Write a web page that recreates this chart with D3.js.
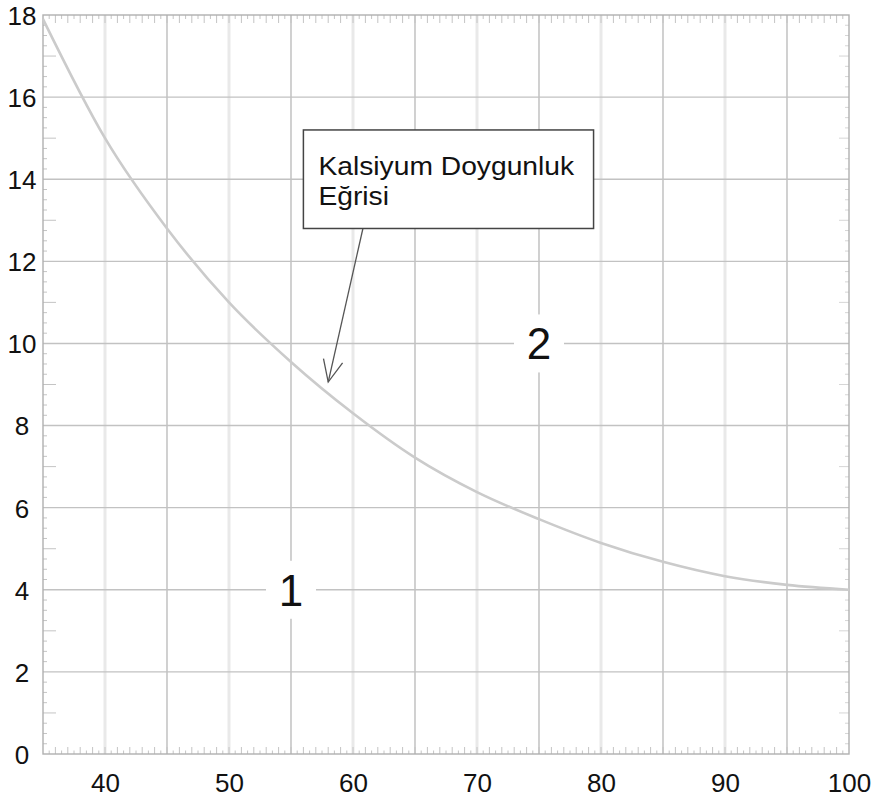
<!DOCTYPE html>
<html>
<head>
<meta charset="utf-8">
<script src="https://cdn.jsdelivr.net/npm/d3@7/dist/d3.min.js"></script>
<style>
  html, body { margin: 0; padding: 0; background: #fff; }
  svg { display: block; font-family: "Liberation Sans", Arial, sans-serif; }
</style>
</head>
<body>
<svg id="chart" width="878" height="803"></svg>
<script>
// Saturation curve: temperature (x) vs. value (y)
const curveX = [35, 40, 45, 50, 55, 60, 65, 70, 75, 80, 85, 90, 95, 100];
const curveY = [17.9, 15.0, 12.8, 11.0, 9.55, 8.3, 7.22, 6.38, 5.72, 5.14, 4.68, 4.33, 4.12, 4.0];

const xTicks = [40, 50, 60, 70, 80, 90, 100];
const yTicks = [0, 2, 4, 6, 8, 10, 12, 14, 16, 18];
const xGridMajor = [40, 50, 60, 70, 80, 90];
const xGridMinor = [45, 55, 65, 75, 85, 95];

// Region labels
const regionText = ["1", "2"];
const regionX = [55, 75];
const regionY = [4, 10];

// Callout
const noteLines = ["Kalsiyum Doygunluk", "Eğrisi"];

const svg = d3.select("#chart");
const x = d3.scaleLinear().domain([35, 100]).range([43, 849]);
const y = d3.scaleLinear().domain([0, 18]).range([754, 15]);

// grid
const grid = svg.append("g");
grid.selectAll("line.gmaj").data(xGridMajor).join("line")
  .attr("x1", d => x(d)).attr("x2", d => x(d))
  .attr("y1", y(18)).attr("y2", y(0))
  .attr("stroke", "#e9e9e9").attr("stroke-width", 3);
grid.selectAll("line.gmin").data(xGridMinor).join("line")
  .attr("x1", d => x(d)).attr("x2", d => x(d))
  .attr("y1", y(18)).attr("y2", y(0))
  .attr("stroke", "#bdbdbd").attr("stroke-width", 1.4);
grid.selectAll("line.gy").data(yTicks.slice(1, -1)).join("line")
  .attr("x1", x(35)).attr("x2", x(100))
  .attr("y1", d => y(d)).attr("y2", d => y(d))
  .attr("stroke", "#c2c2c2").attr("stroke-width", 1.4);

// minor ticks along top / bottom (every 0.5)
const hMinor = d3.range(35.5, 100, 0.5);
const ticks = svg.append("g").attr("stroke", "#c4c4c4").attr("stroke-width", 1);
ticks.selectAll("line.tb").data(hMinor).join("line")
  .attr("x1", d => x(d)).attr("x2", d => x(d))
  .attr("y1", y(0)).attr("y2", d => y(0) - (d % 1 === 0 ? 7 : 3.5));
ticks.selectAll("line.tt").data(hMinor).join("line")
  .attr("x1", d => x(d)).attr("x2", d => x(d))
  .attr("y1", y(18)).attr("y2", d => y(18) + (d % 1 === 0 ? 8 : 4));
// minor ticks along left / right (every 0.25)
const vMinor = d3.range(0.25, 18, 0.25).filter(d => d % 2 !== 0);
ticks.selectAll("line.tl").data(vMinor).join("line")
  .attr("x1", x(35)).attr("x2", d => x(35) + (d % 1 === 0 ? 13 : 4))
  .attr("y1", d => y(d)).attr("y2", d => y(d));
ticks.selectAll("line.tr").data(vMinor).join("line")
  .attr("x1", x(100)).attr("x2", d => x(100) - (d % 1 === 0 ? 10 : 4))
  .attr("y1", d => y(d)).attr("y2", d => y(d))
  .attr("stroke", "#d6d6d6");

// frame
svg.append("rect")
  .attr("x", x(35)).attr("y", y(18))
  .attr("width", x(100) - x(35)).attr("height", y(0) - y(18))
  .attr("fill", "none").attr("stroke", "#b0b0b0").attr("stroke-width", 1.4);

// axis labels
const xAxis = d3.axisBottom(x).tickValues(xTicks).tickSize(0).tickPadding(0);
svg.append("g").attr("transform", `translate(0,${y(0)})`).call(xAxis)
  .call(g => g.select(".domain").remove())
  .selectAll("text")
  .attr("font-family", "Liberation Sans, Arial, sans-serif")
  .attr("font-size", 26).attr("fill", "#111")
  .attr("dy", null).attr("y", 38);

// y labels are centred in the left margin
const yAxis = d3.axisLeft(y).tickValues(yTicks).tickSize(0).tickPadding(0);
svg.append("g").attr("transform", `translate(${x(35)},0)`).call(yAxis)
  .call(g => g.select(".domain").remove())
  .selectAll("text")
  .attr("font-family", "Liberation Sans, Arial, sans-serif")
  .attr("font-size", 26).attr("fill", "#111")
  .attr("text-anchor", "middle").attr("x", -21)
  .attr("dy", "0.36em");

// curve
const pts = curveX.map((d, i) => [d, curveY[i]]);
const line = d3.line().x(d => x(d[0])).y(d => y(d[1])).curve(d3.curveMonotoneX);
svg.append("path").datum(pts)
  .attr("d", line)
  .attr("fill", "none").attr("stroke", "#cbcbcb").attr("stroke-width", 2.6);

// region labels with white halo
const reg = svg.append("g").selectAll("g").data(regionText).join("g")
  .attr("transform", (d, i) => `translate(${x(regionX[i])},${y(regionY[i])})`);
reg.append("rect")
  .attr("x", -25).attr("y", -29).attr("width", 50).attr("height", 58)
  .attr("fill", "#fff");
reg.append("text")
  .attr("text-anchor", "middle").attr("dy", "0.36em")
  .attr("font-size", 44).attr("fill", "#111")
  .text(d => d);

// callout box with arrow
const box = { x0: 56, x1: 79.4, y0: 15.2, y1: 12.8 };
const arrowFrom = [60.8, 12.8];
const arrowTo = [58.0, 9.06];

const ax0 = x(arrowFrom[0]), ay0 = y(arrowFrom[1]);
const ax1 = x(arrowTo[0]), ay1 = y(arrowTo[1]);
const ang = Math.atan2(ay1 - ay0, ax1 - ax0);
const headLen = 24, headAng = 0.42;
const arrow = svg.append("g").attr("stroke", "#555").attr("stroke-width", 1.3).attr("fill", "none");
arrow.append("line").attr("x1", ax0).attr("y1", ay0).attr("x2", ax1).attr("y2", ay1);
arrow.append("path").attr("d",
  `M${ax1 - headLen * Math.cos(ang - headAng)},${ay1 - headLen * Math.sin(ang - headAng)}` +
  `L${ax1},${ay1}` +
  `L${ax1 - headLen * Math.cos(ang + headAng)},${ay1 - headLen * Math.sin(ang + headAng)}`);

svg.append("rect")
  .attr("x", x(box.x0)).attr("y", y(box.y0))
  .attr("width", x(box.x1) - x(box.x0)).attr("height", y(box.y1) - y(box.y0))
  .attr("fill", "#fff").attr("stroke", "#444").attr("stroke-width", 1.5);

svg.append("g").selectAll("text").data(noteLines).join("text")
  .attr("transform", (d, i) => `translate(${x(box.x0) + 15},${y(box.y0) + 45 + i * 30}) scale(1.13,1)`)
  .attr("font-size", 25).attr("fill", "#111")
  .text(d => d);
</script>
</body>
</html>
